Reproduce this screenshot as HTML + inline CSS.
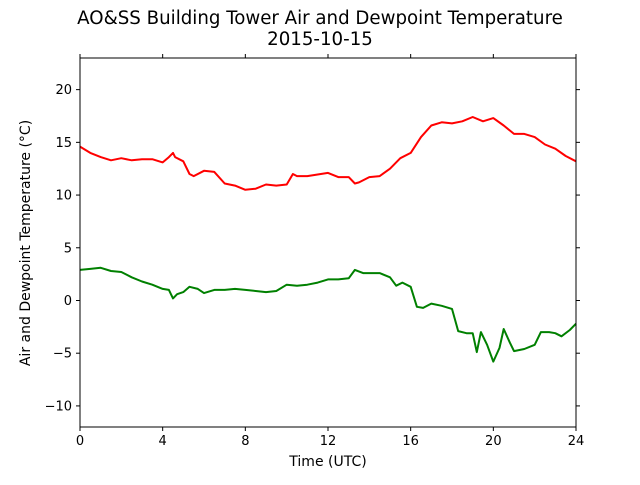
<!DOCTYPE html>
<html><head><meta charset="utf-8"><style>
body{margin:0;background:#fff}
svg text{font-family:"DejaVu Sans","Liberation Sans",sans-serif;fill:#000}
</style></head><body>
<svg id="chart" width="640" height="480" xmlns="http://www.w3.org/2000/svg">
<text x="320" y="24" font-size="18.2" text-anchor="middle">AO&amp;SS Building Tower Air and Dewpoint Temperature</text>
<text x="320" y="45" font-size="18.2" text-anchor="middle">2015-10-15</text>
<text x="328" y="466" font-size="14" text-anchor="middle">Time (UTC)</text>
<text transform="translate(30,243) rotate(-90)" font-size="14" text-anchor="middle">Air and Dewpoint Temperature (°C)</text>
<g id="ticks"></g>
<g id="series"></g>
<rect x="80" y="58" width="496" height="369" fill="none" stroke="#000" stroke-width="1"/>
</svg>
<script>
const xTicks=[0,4,8,12,16,20,24];
const yTicks=[-10,-5,0,5,10,15,20];
const airTime=[0,0.5,1,1.5,2,2.5,3,3.5,4,4.3,4.5,4.6,5,5.3,5.5,6,6.5,7,7.5,8,8.5,9,9.5,10,10.3,10.5,11,12,12.5,13,13.3,13.5,14,14.5,15,15.5,16,16.5,17,17.5,18,18.5,19,19.5,20,20.5,21,21.5,22,22.5,23,23.5,24];
const airTemp=[14.6,14.0,13.6,13.3,13.5,13.3,13.4,13.4,13.1,13.6,14.0,13.6,13.2,12.0,11.8,12.3,12.2,11.1,10.9,10.5,10.6,11.0,10.9,11.0,12.0,11.8,11.8,12.1,11.7,11.7,11.1,11.2,11.7,11.8,12.5,13.5,14.0,15.5,16.6,16.9,16.8,17.0,17.4,17.0,17.3,16.6,15.8,15.8,15.5,14.8,14.4,13.7,13.2];
const dewTime=[0,0.5,1,1.5,2,2.5,3,3.5,4,4.3,4.5,4.7,5,5.3,5.7,6,6.5,7,7.5,8,8.5,9,9.5,10,10.5,11,11.5,12,12.5,13,13.3,13.7,14,14.5,15,15.3,15.6,16,16.3,16.6,17,17.5,18,18.3,18.7,19,19.2,19.4,19.7,20,20.3,20.5,20.8,21,21.5,22,22.3,22.7,23,23.3,23.7,24];
const dewTemp=[2.9,3.0,3.1,2.8,2.7,2.2,1.8,1.5,1.1,1.0,0.2,0.6,0.8,1.3,1.1,0.7,1.0,1.0,1.1,1.0,0.9,0.8,0.9,1.5,1.4,1.5,1.7,2.0,2.0,2.1,2.9,2.6,2.6,2.6,2.2,1.4,1.7,1.3,-0.6,-0.7,-0.3,-0.5,-0.8,-2.9,-3.1,-3.1,-4.9,-3.0,-4.2,-5.8,-4.5,-2.7,-4.0,-4.8,-4.6,-4.2,-3.0,-3.0,-3.1,-3.4,-2.8,-2.2];
const X0=80,X1=576,Y0=427,Y1=58,XMIN=0,XMAX=24,YMIN=-12,YMAX=23;
const xs=v=>X0+(v-XMIN)/(XMAX-XMIN)*(X1-X0);
const ys=v=>Y0-(v-YMIN)/(YMAX-YMIN)*(Y0-Y1);
const NS="http://www.w3.org/2000/svg";
const tg=document.getElementById('ticks');
xTicks.forEach(t=>{
  const x=xs(t);
  [[Y0,Y0+4],[Y1,Y1-4]].forEach(p=>{const l=document.createElementNS(NS,'line');
  l.setAttribute('x1',x);l.setAttribute('x2',x);l.setAttribute('y1',p[0]);l.setAttribute('y2',p[1]);l.setAttribute('stroke','#000');
  
  
  tg.appendChild(l);});
  const tx=document.createElementNS(NS,'text');
  tx.setAttribute('x',x);tx.setAttribute('y',Y0+18);tx.setAttribute('font-size','13');tx.setAttribute('text-anchor','middle');tx.textContent=t;
  
  
  tg.appendChild(tx);
});
yTicks.forEach(t=>{
  const y=ys(t);
  [[X0,X0-4],[X1,X1+4]].forEach(p=>{const l=document.createElementNS(NS,'line');
  l.setAttribute('x1',p[0]);l.setAttribute('x2',p[1]);l.setAttribute('y1',y);l.setAttribute('y2',y);l.setAttribute('stroke','#000');
  
  
  tg.appendChild(l);});
  const tx=document.createElementNS(NS,'text');
  tx.setAttribute('x',X0-8);tx.setAttribute('y',y+4.5);tx.setAttribute('font-size','13');tx.setAttribute('text-anchor','end');tx.textContent=(t<0?'\u2212'+(-t):t);
  
  
  tg.appendChild(tx);
});
const sg=document.getElementById('series');
function line(ts,vs,color,name){
  const p=document.createElementNS(NS,'polyline');
  p.setAttribute('points',ts.map((t,i)=>xs(t).toFixed(1)+','+ys(vs[i]).toFixed(1)).join(' '));
  p.setAttribute('fill','none');p.setAttribute('stroke',color);p.setAttribute('stroke-width','2');p.setAttribute('stroke-linejoin','round');
  
  
  sg.appendChild(p);
}
line(airTime,airTemp,'#ff0000','air-temperature-line');
line(dewTime,dewTemp,'#008000','dewpoint-temperature-line');
</script>
</body></html>
